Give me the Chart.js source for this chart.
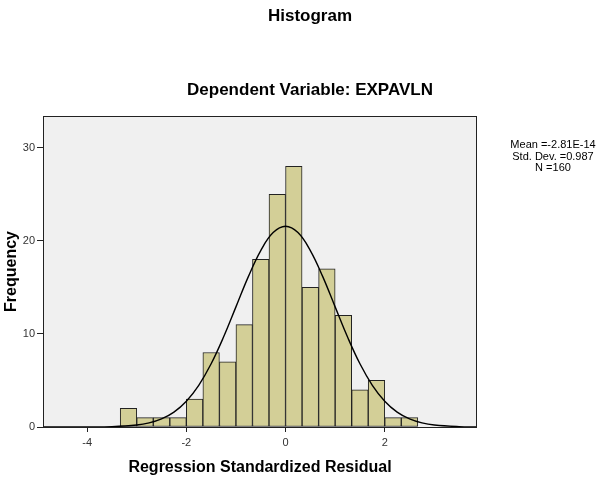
<!DOCTYPE html>
<html>
<head>
<meta charset="utf-8">
<script src="https://cdn.jsdelivr.net/npm/chart.js@4.4.1/dist/chart.umd.min.js"></script>
<style>
  html, body { margin: 0; padding: 0; background: #fff; }
  #chart { display: block; }
</style>
</head>
<body>
<canvas id="chart" width="600" height="477"></canvas>
<script>
// histogram bins (left edges, width 1/3) and counts
const binLefts = [-10/3, -3, -8/3, -7/3, -2, -5/3, -4/3, -1, -2/3, -1/3, 0, 1/3, 2/3, 1, 4/3, 5/3, 2, 7/3];
const binWidth = 1/3;
const counts = [2, 1, 1, 1, 3, 8, 7, 11, 18, 25, 28, 15, 17, 12, 4, 5, 1, 1];

// normal curve
const curveX = [-4.89, -4.5, -4, -3.5, -3, -2.75, -2.5, -2.25, -2, -1.75, -1.5, -1.25, -1, -0.75, -0.5, -0.25, 0,
                0.25, 0.5, 0.75, 1, 1.25, 1.5, 1.75, 2, 2.25, 2.5, 2.75, 3, 3.5, 3.86];
const curveY = [0, 0, 0.01, 0.04, 0.21, 0.44, 0.87, 1.6, 2.77, 4.48, 6.79, 9.66, 12.9, 16.15, 18.95, 20.88, 21.56,
                20.88, 18.95, 16.15, 12.9, 9.66, 6.79, 4.48, 2.77, 1.6, 0.87, 0.44, 0.21, 0.04, 0.01];

const xTicks = [-4, -2, 0, 2];
const yTicks = [0, 10, 20, 30];

const title = 'Histogram';
const subtitle = 'Dependent Variable: EXPAVLN';
const statsLines = ['Mean =-2.81E-14', 'Std. Dev. =0.987', 'N =160'];

const FONT = "'Liberation Sans', Arial, Helvetica, sans-serif";

const barData = binLefts.map((l, i) => ({ x: l + binWidth / 2, y: counts[i] }));
const curveData = curveX.map((x, i) => ({ x: x, y: curveY[i] }));

const framePlugin = {
    id: 'frame',
    beforeDraw(chart) {
        const { ctx, chartArea: a } = chart;
        ctx.save();
        ctx.fillStyle = '#ffffff';
        ctx.fillRect(0, 0, chart.width, chart.height);
        ctx.fillStyle = '#f0f0f0';
        ctx.fillRect(a.left, a.top, a.right - a.left, a.bottom - a.top);
        ctx.restore();
    },
    afterDraw(chart) {
        const { ctx, chartArea: a } = chart;
        ctx.save();
        ctx.strokeStyle = '#222';
        ctx.lineWidth = 1;
        ctx.strokeRect(a.left + 0.5, a.top + 0.5, a.right - a.left - 1, a.bottom - a.top);

        ctx.fillStyle = '#000';
        ctx.textAlign = 'center';
        ctx.textBaseline = 'middle';
        ctx.font = 'bold 17px ' + FONT;
        ctx.fillText(title, 310, 16);
        ctx.fillText(subtitle, 310, 90);

        ctx.font = '11px ' + FONT;
        statsLines.forEach((t, i) => ctx.fillText(t, 553, 145 + i * 11.5));
        ctx.restore();
    }
};

new Chart(document.getElementById('chart').getContext('2d'), {
    type: 'bar',
    data: {
        datasets: [
            {
                type: 'line',
                data: curveData,
                borderColor: '#000',
                borderWidth: 1.4,
                pointRadius: 0,
                tension: 0.4,
                fill: false,
                order: 0
            },
            {
                type: 'bar',
                data: barData,
                backgroundColor: '#d3cf97',
                borderColor: '#222',
                borderWidth: 1,
                borderSkipped: false,
                barPercentage: 1,
                categoryPercentage: 1,
                order: 1
            }
        ]
    },
    options: {
        responsive: false,
        animation: false,
        layout: { padding: { left: 0, top: 116, right: 123, bottom: 0 } },
        plugins: {
            legend: { display: false },
            tooltip: { enabled: false }
        },
        scales: {
            x: {
                type: 'linear',
                min: -4.89,
                max: 3.86,
                offset: false,
                afterFit: scale => { scale.height = 50; },
                afterBuildTicks: scale => { scale.ticks = xTicks.map(v => ({ value: v })); },
                border: { display: false },
                grid: { offset: false, drawOnChartArea: false, color: '#222', tickLength: 5 },
                ticks: { color: '#333', padding: 4, font: { family: FONT, size: 11 } },
                title: {
                    display: true,
                    text: 'Regression Standardized Residual',
                    color: '#000',
                    padding: { top: 0, bottom: 0 },
                    font: { family: FONT, size: 16, weight: 'bold' }
                }
            },
            y: {
                min: 0,
                max: 33.4,
                afterFit: scale => { scale.width = 43; },
                afterBuildTicks: scale => { scale.ticks = yTicks.map(v => ({ value: v })); },
                border: { display: false },
                grid: { drawOnChartArea: false, color: '#222', tickLength: 6 },
                ticks: { color: '#333', padding: 2, font: { family: FONT, size: 11 } },
                title: {
                    display: true,
                    text: 'Frequency',
                    color: '#000',
                    padding: { top: 2, bottom: 0 },
                    font: { family: FONT, size: 16, weight: 'bold' }
                }
            }
        }
    },
    plugins: [framePlugin]
});
</script>
</body>
</html>
